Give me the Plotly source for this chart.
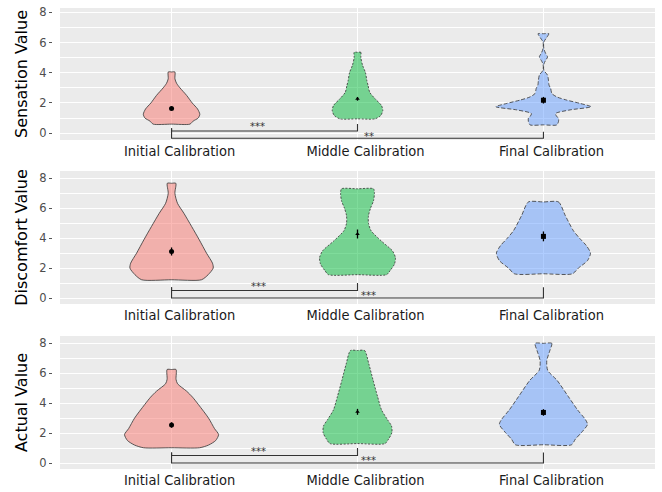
import plotly.graph_objects as go

categories = ["Initial Calibration", "Middle Calibration", "Final Calibration"]
panel_titles = ["Sensation Value", "Discomfort Value", "Actual Value"]
y_ticks = [0, 2, 4, 6, 8]

# ---- violin outlines: value levels (top -> bottom) and half-widths (category units)
sens_init_lv = [4.05, 3.6, 3.3, 3.0, 2.5, 2.0, 1.6, 1.25, 1.0, 0.8, 0.6]
sens_init_hw = [0.018, 0.018, 0.027, 0.045, 0.081, 0.111, 0.140, 0.152, 0.143, 0.116, 0.099]
sens_mid_lv = [5.35, 5.0, 4.5, 4.0, 3.5, 3.15, 2.7, 2.27, 1.83, 1.5, 1.17, 0.95]
sens_mid_hw = [0.018, 0.018, 0.027, 0.043, 0.050, 0.057, 0.066, 0.095, 0.129, 0.136, 0.125, 0.095]
sens_fin_lv = [6.58, 6.3, 6.03, 5.6, 5.3, 5.04, 4.8, 4.56, 4.17, 3.84, 3.5, 3.18, 2.96, 2.63,
               2.4, 2.19, 1.97, 1.75, 1.54, 1.3, 1.1, 0.99, 0.77, 0.55]
sens_fin_hw = [0.029, 0.016, 0.002, 0.002, 0.011, 0.022, 0.011, 0.002, 0.002, 0.022, 0.027, 0.030,
               0.039, 0.045, 0.072, 0.125, 0.197, 0.256, 0.143, 0.065, 0.072, 0.081, 0.081, 0.072]

disc_init_lv = [7.67, 7.0, 6.33, 5.67, 4.78, 3.89, 3.0, 2.33, 2.0, 1.56, 1.22]
disc_init_hw = [0.023, 0.018, 0.032, 0.066, 0.108, 0.149, 0.188, 0.220, 0.224, 0.197, 0.161]
disc_mid_lv = [7.3, 7.0, 6.5, 6.0, 5.5, 5.0, 4.5, 3.8, 3.15, 2.7, 2.27, 1.83, 1.56]
disc_mid_hw = [0.086, 0.091, 0.086, 0.070, 0.059, 0.059, 0.073, 0.129, 0.188, 0.204, 0.199, 0.175, 0.156]
disc_fin_lv = [6.42, 5.5, 4.5, 4.0, 3.5, 3.0, 2.5, 2.0, 1.62]
disc_fin_hw = [0.081, 0.118, 0.161, 0.194, 0.231, 0.253, 0.237, 0.188, 0.156]

act_init_lv = [6.25, 5.6, 5.3, 4.8, 4.4, 3.9, 3.0, 2.3, 1.9, 1.5, 1.2, 1.02]
act_init_hw = [0.024, 0.024, 0.032, 0.081, 0.113, 0.145, 0.199, 0.231, 0.253, 0.237, 0.199, 0.151]
act_mid_lv = [7.52, 6.62, 5.53, 4.44, 3.56, 2.9, 2.47, 2.03, 1.6, 1.3]
act_mid_hw = [0.038, 0.061, 0.084, 0.108, 0.129, 0.161, 0.183, 0.185, 0.167, 0.148]
act_fin_lv = [8.0, 7.5, 6.84, 6.19, 5.53, 4.44, 3.56, 2.9, 2.58, 2.03, 1.6, 1.22]
act_fin_hw = [0.045, 0.034, 0.018, 0.023, 0.073, 0.134, 0.183, 0.226, 0.237, 0.204, 0.172, 0.151]

# ---- means and error half-lengths
sens_means = [1.64, 2.27, 2.18]
sens_err = [0.10, 0.12, 0.22]
disc_means = [3.11, 4.28, 4.12]
disc_err = [0.27, 0.30, 0.33]
act_means = [2.54, 3.42, 3.38]
act_err = [0.18, 0.20, 0.22]

# ---- significance brackets: (from group, to group, bar level, left tip top, right tip top)
sens_brackets = [(0, 1, 0.15, 0.33, 0.61), (0, 2, -0.33, 0.33, 0.10)]
sens_labels = ["***", "**"]
sens_label_pos = [(0.46, 0.42), (1.06, -0.19)]
disc_brackets = [(0, 1, 0.50, 0.72, 1.00), (0, 2, 0.0, 0.72, 0.72)]
disc_labels = ["***", "***"]
disc_label_pos = [(0.47, 0.80), (1.06, 0.19)]
act_brackets = [(0, 1, 0.50, 0.70, 1.00), (0, 2, 0.0, 0.70, 0.70)]
act_labels = ["***", "***"]
act_label_pos = [(0.47, 0.76), (1.06, 0.19)]

panels = [
    dict(lv=[sens_init_lv, sens_mid_lv, sens_fin_lv], hw=[sens_init_hw, sens_mid_hw, sens_fin_hw],
         means=sens_means, err=sens_err, br=sens_brackets, bl=sens_labels, bp=sens_label_pos,
         yrange=[-0.45, 8.28], domain=[329 / 461, 1.0]),
    dict(lv=[disc_init_lv, disc_mid_lv, disc_fin_lv], hw=[disc_init_hw, disc_mid_hw, disc_fin_hw],
         means=disc_means, err=disc_err, br=disc_brackets, bl=disc_labels, bp=disc_label_pos,
         yrange=[-0.40, 8.49], domain=[165 / 461, 298 / 461]),
    dict(lv=[act_init_lv, act_mid_lv, act_fin_lv], hw=[act_init_hw, act_mid_hw, act_fin_hw],
         means=act_means, err=act_err, br=act_brackets, bl=act_labels, bp=act_label_pos,
         yrange=[-0.40, 8.49], domain=[0.0, 133 / 461]),
]

fills = ["rgba(248,118,109,0.5)", "rgba(0,186,56,0.5)", "rgba(97,156,255,0.5)"]
dashes = ["solid", "2px,1.5px", "4px,2px"]
symbols = ["circle", "triangle-up", "square"]
marker_sizes = [5, 4, 5]
outline = "#333333"
label_shift = 0.043

fig = go.Figure()
annotations = []

for p_i, p in enumerate(panels):
    sfx = "" if p_i == 0 else str(p_i + 1)
    xa, ya = "x" + sfx, "y" + sfx
    for g in range(3):
        lv, hw = p["lv"][g], p["hw"][g]
        xs = [g] + [g + w for w in hw] + [g] + [g - w for w in reversed(hw)] + [g]
        ys = [lv[0]] + list(lv) + [lv[-1]] + list(reversed(lv)) + [lv[0]]
        fig.add_trace(go.Scatter(
            x=xs, y=ys, mode="lines", fill="toself", fillcolor=fills[g],
            line=dict(color=outline, width=0.8, dash=dashes[g], shape="spline", smoothing=0.7),
            xaxis=xa, yaxis=ya, showlegend=False, hoverinfo="skip"))
    for g in range(3):
        fig.add_trace(go.Scatter(
            x=[g], y=[p["means"][g]], mode="markers",
            marker=dict(color="black", size=marker_sizes[g], symbol=symbols[g]),
            error_y=dict(type="data", array=[p["err"][g]], color="black", thickness=1.3, width=0),
            xaxis=xa, yaxis=ya, showlegend=False))
    for (a, b, lvl, lt, rt) in p["br"]:
        fig.add_trace(go.Scatter(
            x=[a, a, b, b], y=[lt, lvl, lvl, rt], mode="lines",
            line=dict(color="#333333", width=1.1),
            xaxis=xa, yaxis=ya, showlegend=False, hoverinfo="skip"))
    for lab, (lx, ly) in zip(p["bl"], p["bp"]):
        annotations.append(dict(x=lx, y=ly, xref=xa, yref=ya, text=lab, showarrow=False,
                                font=dict(family="DejaVu Sans", size=10, color="#333333")))

layout = dict(
    width=662, height=492,
    margin=dict(l=52, r=7, t=8, b=23),
    paper_bgcolor="white", plot_bgcolor="#EBEBEB",
    showlegend=False, annotations=annotations,
)
for p_i, p in enumerate(panels):
    sfx = "" if p_i == 0 else str(p_i + 1)
    layout["xaxis" + sfx] = dict(
        domain=[8 / 603, 1.0], anchor="y" + sfx, range=[-0.6, 2.6],
        tickvals=[g + label_shift for g in range(3)], ticktext=categories,
        showgrid=False, zeroline=False, showline=False, ticks="",
        tickfont=dict(family="DejaVu Sans Condensed, Liberation Sans Narrow, DejaVu Sans", size=14.5, color="#1a1a1a"),
        minor=dict(tickvals=[0, 1, 2], showgrid=True, gridcolor="white", gridwidth=1.2, ticks=""),
        automargin=False, fixedrange=True,
    )
    layout["yaxis" + sfx] = dict(
        domain=p["domain"], anchor="free", position=0,
        range=p["yrange"], tickvals=y_ticks, ticks="outside", ticklen=3, tickwidth=1, tickcolor="#555555",
        tickfont=dict(family="DejaVu Sans", size=11.5, color="#4D4D4D"),
        showgrid=True, gridcolor="white", gridwidth=1.2, zeroline=False, showline=False,
        minor=dict(dtick=1, tick0=0, showgrid=True, gridcolor="white", gridwidth=0.6, ticks=""),
        title=dict(text=panel_titles[p_i], font=dict(family="DejaVu Sans", size=16, color="black"), standoff=6),
        automargin=False, fixedrange=True,
    )

fig.update_layout(**layout)
# remove the page's default body margin so the 662x492 figure fills the window exactly
fig.write_html("out.html", config={"displayModeBar": False},
               post_script="document.body.style.margin='0px';")
